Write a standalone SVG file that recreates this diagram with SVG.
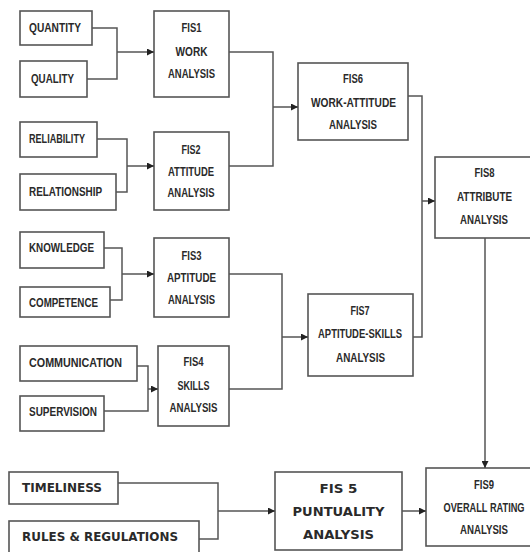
<svg xmlns="http://www.w3.org/2000/svg" width="530" height="552" viewBox="0 0 530 552">
<style>
.box{fill:#fff;stroke:#555;stroke-width:1.6}
.t{font-family:"Liberation Sans",Arial,sans-serif;font-weight:bold;font-size:12px;fill:#2a2a2a}
.c{text-anchor:middle}
.b{font-family:"DejaVu Sans",Verdana,sans-serif;font-weight:bold;font-size:12px;fill:#2a2a2a}
.ln{fill:none;stroke:#555;stroke-width:1.5}
</style>
<defs>
<marker id="ah" viewBox="0 0 10 10" refX="10" refY="5" markerWidth="7" markerHeight="7" markerUnits="userSpaceOnUse" orient="auto">
<path d="M0,0 L10,5 L0,10 z" fill="#222"/>
</marker>
</defs>
<rect width="530" height="552" fill="#fff"/>

<g id="quantity"><rect class="box" x="20" y="11" width="72" height="34"/><text class="t" x="29" y="32" textLength="52" lengthAdjust="spacingAndGlyphs">QUANTITY</text></g>
<g id="quality"><rect class="box" x="20" y="61" width="67" height="36"/><text class="t" x="31" y="83" textLength="43" lengthAdjust="spacingAndGlyphs">QUALITY</text></g>
<g id="reliability"><rect class="box" x="20" y="122" width="77" height="35"/><text class="t" x="29" y="143" textLength="56" lengthAdjust="spacingAndGlyphs">RELIABILITY</text></g>
<g id="relationship"><rect class="box" x="20" y="174" width="96" height="36"/><text class="t" x="29" y="196" textLength="73" lengthAdjust="spacingAndGlyphs">RELATIONSHIP</text></g>
<g id="knowledge"><rect class="box" x="20" y="232" width="84" height="36"/><text class="t" x="29" y="252" textLength="65" lengthAdjust="spacingAndGlyphs">KNOWLEDGE</text></g>
<g id="competence"><rect class="box" x="20" y="287" width="90" height="30"/><text class="t" x="29" y="307" textLength="69" lengthAdjust="spacingAndGlyphs">COMPETENCE</text></g>
<g id="communication"><rect class="box" x="20" y="346" width="117" height="35"/><text class="t" x="29" y="367" textLength="93" lengthAdjust="spacingAndGlyphs">COMMUNICATION</text></g>
<g id="supervision"><rect class="box" x="20" y="396" width="84" height="35"/><text class="t" x="29" y="416" textLength="68" lengthAdjust="spacingAndGlyphs">SUPERVISION</text></g>
<g id="timeliness"><rect class="box" x="9" y="472" width="109" height="32"/><text class="b" x="22" y="492" textLength="80" lengthAdjust="spacingAndGlyphs">TIMELINESS</text></g>
<g id="rules"><rect class="box" x="9" y="521" width="190" height="40"/><text class="b" x="22" y="541" textLength="156" lengthAdjust="spacingAndGlyphs">RULES &amp; REGULATIONS</text></g>

<g id="fis1"><rect class="box" x="154" y="11" width="75" height="86"/>
<text class="t c" x="191.5" y="32" textLength="20" lengthAdjust="spacingAndGlyphs">FIS1</text>
<text class="t c" x="191.5" y="56" textLength="32" lengthAdjust="spacingAndGlyphs">WORK</text>
<text class="t c" x="191.5" y="78" textLength="47" lengthAdjust="spacingAndGlyphs">ANALYSIS</text></g>
<g id="fis2"><rect class="box" x="154" y="132" width="75" height="78"/>
<text class="t c" x="191" y="154" textLength="19" lengthAdjust="spacingAndGlyphs">FIS2</text>
<text class="t c" x="191" y="176" textLength="46" lengthAdjust="spacingAndGlyphs">ATTITUDE</text>
<text class="t c" x="191" y="197" textLength="47" lengthAdjust="spacingAndGlyphs">ANALYSIS</text></g>
<g id="fis3"><rect class="box" x="154" y="238" width="75" height="79"/>
<text class="t c" x="191.5" y="260" textLength="20" lengthAdjust="spacingAndGlyphs">FIS3</text>
<text class="t c" x="191.5" y="282" textLength="49" lengthAdjust="spacingAndGlyphs">APTITUDE</text>
<text class="t c" x="191.5" y="304" textLength="47" lengthAdjust="spacingAndGlyphs">ANALYSIS</text></g>
<g id="fis4"><rect class="box" x="158" y="346" width="71" height="80"/>
<text class="t c" x="193.5" y="366" textLength="20" lengthAdjust="spacingAndGlyphs">FIS4</text>
<text class="t c" x="193.5" y="390" textLength="32" lengthAdjust="spacingAndGlyphs">SKILLS</text>
<text class="t c" x="193.5" y="412" textLength="48" lengthAdjust="spacingAndGlyphs">ANALYSIS</text></g>
<g id="fis6"><rect class="box" x="298" y="63" width="110" height="77"/>
<text class="t c" x="353" y="83" textLength="20" lengthAdjust="spacingAndGlyphs">FIS6</text>
<text class="t c" x="353.5" y="107" textLength="85" lengthAdjust="spacingAndGlyphs">WORK-ATTITUDE</text>
<text class="t c" x="353" y="129" textLength="48" lengthAdjust="spacingAndGlyphs">ANALYSIS</text></g>
<g id="fis7"><rect class="box" x="308" y="294" width="105" height="82"/>
<text class="t c" x="360" y="315" textLength="19" lengthAdjust="spacingAndGlyphs">FIS7</text>
<text class="t c" x="360" y="338" textLength="84" lengthAdjust="spacingAndGlyphs">APTITUDE-SKILLS</text>
<text class="t c" x="360.5" y="362" textLength="49" lengthAdjust="spacingAndGlyphs">ANALYSIS</text></g>
<g id="fis8"><rect class="box" x="435" y="157" width="100" height="81"/>
<text class="t c" x="484.5" y="177" textLength="20" lengthAdjust="spacingAndGlyphs">FIS8</text>
<text class="t c" x="484.5" y="201" textLength="55" lengthAdjust="spacingAndGlyphs">ATTRIBUTE</text>
<text class="t c" x="484" y="224" textLength="48" lengthAdjust="spacingAndGlyphs">ANALYSIS</text></g>
<g id="fis5"><rect class="box" x="275" y="472" width="127" height="78"/>
<text class="b c" x="338.5" y="493" textLength="38" lengthAdjust="spacingAndGlyphs">FIS 5</text>
<text class="b c" x="338.5" y="516" textLength="92" lengthAdjust="spacingAndGlyphs">PUNTUALITY</text>
<text class="b c" x="338.5" y="539" textLength="71" lengthAdjust="spacingAndGlyphs">ANALYSIS</text></g>
<g id="fis9"><rect class="box" x="426" y="468" width="118" height="78"/>
<text class="t c" x="484" y="489" textLength="20" lengthAdjust="spacingAndGlyphs">FIS9</text>
<text class="t c" x="484" y="512" textLength="81" lengthAdjust="spacingAndGlyphs">OVERALL RATING</text>
<text class="t c" x="484" y="534" textLength="48" lengthAdjust="spacingAndGlyphs">ANALYSIS</text></g>

<g id="connectors">
<path class="ln" d="M92,28 H117 V79 H87"/>
<path class="ln" d="M117,52 H154" marker-end="url(#ah)"/>
<path class="ln" d="M97,139 H127 V192 H116"/>
<path class="ln" d="M127,166 H154" marker-end="url(#ah)"/>
<path class="ln" d="M104,248 H122 V300 H110"/>
<path class="ln" d="M122,274 H154" marker-end="url(#ah)"/>
<path class="ln" d="M137,366 H148 V411 H104"/>
<path class="ln" d="M148,389 H158" marker-end="url(#ah)"/>
<path class="ln" d="M229,52 H273 V166 H229"/>
<path class="ln" d="M273,107 H298" marker-end="url(#ah)"/>
<path class="ln" d="M229,274 H282 V389 H229"/>
<path class="ln" d="M282,337 H308" marker-end="url(#ah)"/>
<path class="ln" d="M408,96 H422 V337 H413"/>
<path class="ln" d="M422,201 H435" marker-end="url(#ah)"/>
<path class="ln" d="M485,238 V468" marker-end="url(#ah)"/>
<path class="ln" d="M118,483 H218 V539 H199"/>
<path class="ln" d="M218,511 H275" marker-end="url(#ah)"/>
<path class="ln" d="M402,511 H426" marker-end="url(#ah)"/>
</g>
</svg>
